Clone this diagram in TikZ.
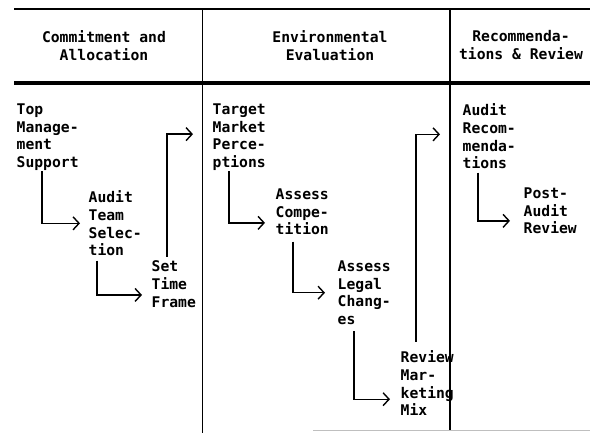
\documentclass[tikz,border=0pt]{standalone}
\usepackage{fontspec}
\setmonofont{DejaVu Sans Mono}
\usepackage{tikz}
\usetikzlibrary{arrows.meta,positioning,calc}

\begin{document}
\begin{tikzpicture}[x=1pt, y=-1pt, >={Straight Barb[length=6pt,width=13pt]}, line width=1.4pt,
  task/.style={anchor=north west, align=left, inner sep=0pt, font=\ttfamily\bfseries\fontsize{14.7}{17.7}\selectfont},
  head/.style={anchor=north, align=center, inner sep=0pt, font=\ttfamily\bfseries\fontsize{14.7}{17.7}\selectfont},
  flow/.style={->, line width=1.4pt}]
\useasboundingbox (0,0) rectangle (590,433);

\draw (14,9) -- (590,9);
\draw[line width=3.5pt] (14,83) -- (590,83);
\draw (202.5,9) -- (202.5,433);
\draw (450,9) -- (450,430);
\draw[gray!50, line width=1pt] (313,430) -- (590,430);

\node[head] (hca) at (104,30) {Commitment and\\Allocation};
\node[head] (hee) at (330,30) {Environmental\\Evaluation};
\node[head] (hrr) at (521,30) {Recommenda-\\tions \& Review};

\node[task] (tms) at (16,103) {Top\\Manage-\\ment\\Support};
\node[task] (ats) at (88,190) {Audit\\Team\\Selec-\\tion};
\node[task] (stf) at (151,260) {Set\\Time\\Frame};
\node[task] (tmp) at (212,103) {Target\\Market\\Perce-\\ptions};
\node[task] (acp) at (275,188) {Assess\\Compe-\\tition};
\node[task] (alc) at (337,260) {Assess\\Legal\\Chang-\\es};
\node[task] (rmm) at (400,350) {Review\\Mar-\\keting\\Mix};
\node[task] (arc) at (462,103) {Audit\\Recom-\\menda-\\tions};
\node[task] (par) at (523,187) {Post-\\Audit\\Review};

\draw[flow] ([xshift=26pt]tms.south west) |- ([xshift=-8pt]ats.west);
\draw[flow] ([xshift=9pt,yshift=-4pt]ats.south west) |- ([xshift=-9pt,yshift=-11pt]stf.west);
\draw[flow] ([xshift=16pt,yshift=3pt]stf.north west) |- ([xshift=-19pt,yshift=3pt]tmp.west);
\draw[flow] ([xshift=17pt]tmp.south west) |- ([xshift=-10pt,yshift=-11pt]acp.west);
\draw[flow] ([xshift=18pt,yshift=-6pt]acp.south west) |- ([xshift=-12pt]alc.west);
\draw[flow] ([xshift=17pt,yshift=-6pt]alc.south west) |- ([xshift=-10pt,yshift=-16pt]rmm.west);
\draw[flow] ([xshift=16pt,yshift=8pt]rmm.north west) |- ([xshift=-22pt,yshift=2pt]arc.west);
\draw[flow] ([xshift=16pt,yshift=-3pt]arc.south west) |- ([xshift=-13pt,yshift=-10pt]par.west);
\end{tikzpicture}
\end{document}
